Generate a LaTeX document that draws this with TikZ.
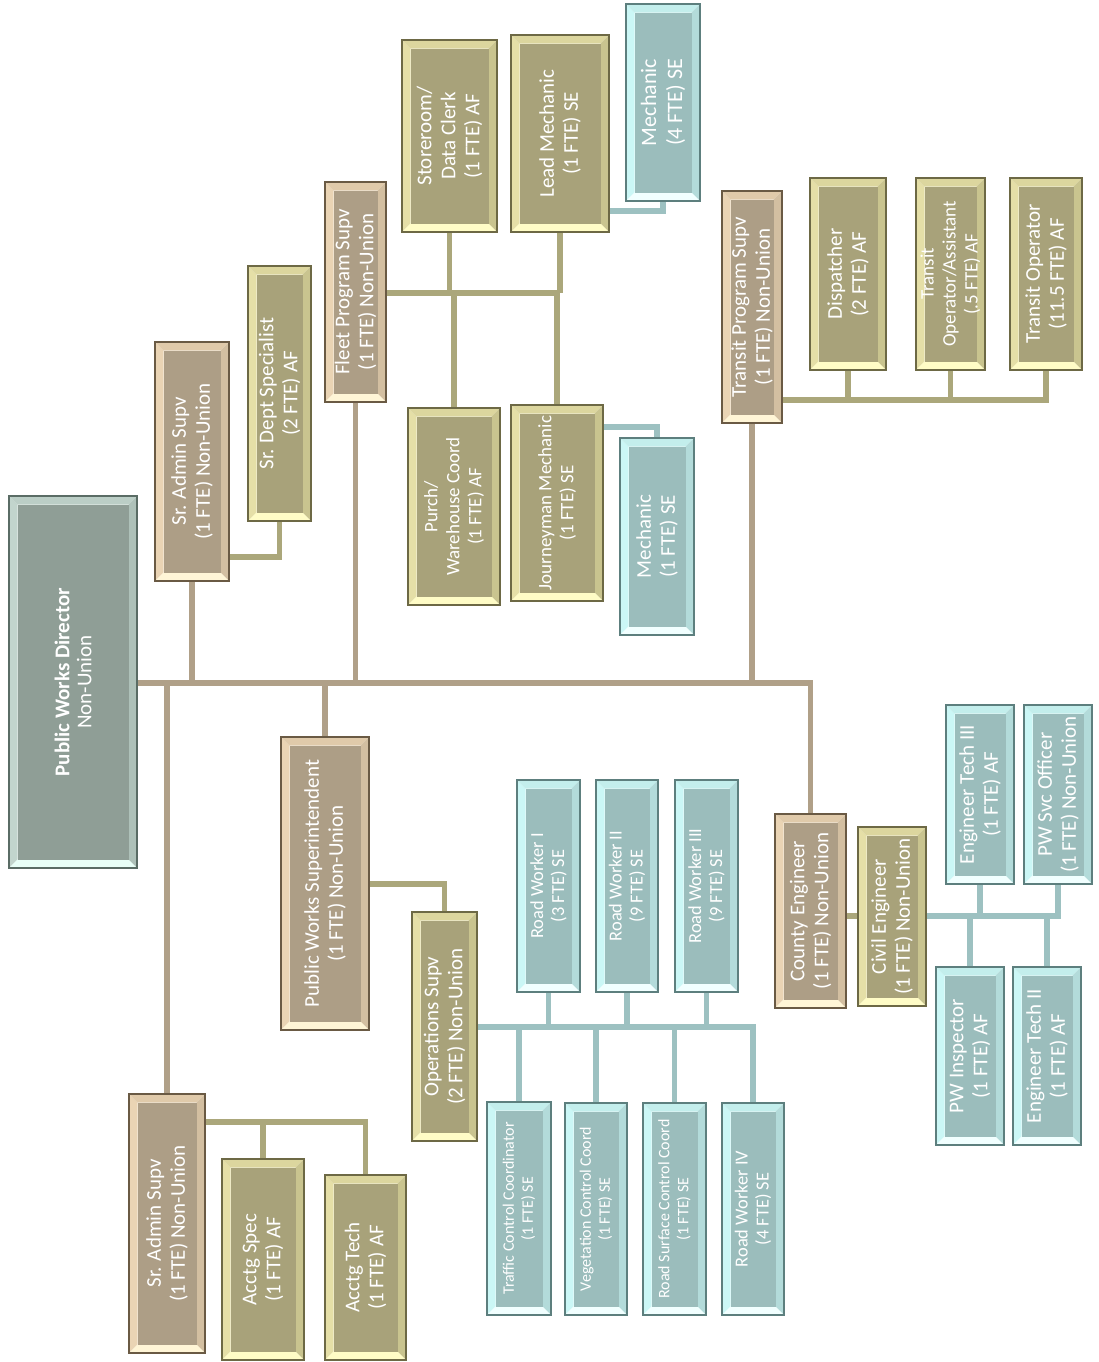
\documentclass[tikz,border=0pt]{standalone}
\usepackage{fontspec}
\setmainfont{Carlito}
\usetikzlibrary{fit}
% tan family
\definecolor{tanI}{HTML}{AD9E86}\definecolor{tanL}{HTML}{EAD4B4}\definecolor{tanT}{HTML}{E0CAAA}
\definecolor{tanR}{HTML}{D3BFA1}\definecolor{tanB}{HTML}{FFF5D6}\definecolor{tanD}{HTML}{6A5A44}
% olive family
\definecolor{olvI}{HTML}{A8A27A}\definecolor{olvL}{HTML}{E5DFA7}\definecolor{olvT}{HTML}{DCD69E}
\definecolor{olvR}{HTML}{C9C48F}\definecolor{olvB}{HTML}{FFFCC6}\definecolor{olvD}{HTML}{6D6945}
% teal family
\definecolor{teaI}{HTML}{9BBDBC}\definecolor{teaL}{HTML}{CBF7F6}\definecolor{teaT}{HTML}{C3EEEC}
\definecolor{teaR}{HTML}{B3DBDA}\definecolor{teaB}{HTML}{F1FFFF}\definecolor{teaD}{HTML}{5D7F7E}
% director family
\definecolor{dirI}{HTML}{8F9E96}\definecolor{dirL}{HTML}{C2D5CD}\definecolor{dirT}{HTML}{BBCEC6}
\definecolor{dirR}{HTML}{AEC1B9}\definecolor{dirB}{HTML}{E8FFF7}\definecolor{dirD}{HTML}{5A6C65}
% connector colours
\definecolor{lnTan}{HTML}{B0A088}\definecolor{lnOlv}{HTML}{ABA77B}\definecolor{lnTea}{HTML}{9DC1C1}
\newcommand\bvw{8.5}
\newcommand\orgbox[8]{%
  \fill[#2L] (#3,#4) -- ({#3+\bvw},{#4+\bvw}) -- ({#3+\bvw},{#6-\bvw}) -- (#3,#6) -- cycle;
  \fill[#2T] (#3,#4) -- (#5,#4) -- ({#5-\bvw},{#4+\bvw}) -- ({#3+\bvw},{#4+\bvw}) -- cycle;
  \fill[#2R] (#5,#4) -- (#5,#6) -- ({#5-\bvw},{#6-\bvw}) -- ({#5-\bvw},{#4+\bvw}) -- cycle;
  \fill[#2B] (#3,#6) -- (#5,#6) -- ({#5-\bvw},{#6-\bvw}) -- ({#3+\bvw},{#6-\bvw}) -- cycle;
  \fill[#2I] ({#3+\bvw},{#4+\bvw}) rectangle ({#5-\bvw},{#6-\bvw});
  \coordinate (#1-a) at (#3,#4);
  \coordinate (#1-b) at (#5,#6);
  \node[fit=(#1-a)(#1-b), inner sep=0pt, draw=#2D, line width=1pt] (#1) {};
  \node[boxtext, #7] (#1-t) at (#1.center) {#8};
}
\begin{document}
\begin{tikzpicture}[x=0.5pt, y=-0.5pt,
  boxtext/.style={rotate=90, text=white, align=center, inner sep=0pt},
  fN/.style={font=\fontsize{10.5pt}{12pt}\selectfont},
  fA/.style={font=\fontsize{10.5pt}{11pt}\selectfont},
  fM/.style={font=\fontsize{11pt}{13pt}\selectfont},
  fS/.style={font=\fontsize{9.5pt}{11pt}\selectfont},
  fR/.style={font=\fontsize{9.2pt}{10.5pt}\selectfont},
  fT/.style={font=\fontsize{8pt}{9.5pt}\selectfont},
  tanline/.style={draw=lnTan, line width=2.8pt},
  olvline/.style={draw=lnOlv, line width=2.6pt},
  tealine/.style={draw=lnTea, line width=2.6pt}]
\fill[white] (0,0) rectangle (1099,1362);
\useasboundingbox (0,0) rectangle (1099,1362);

% ---------- boxes ----------
\orgbox{dir}{dir}{9}{496}{137}{868}{fA}{\textbf{Public Works Director}\\Non-Union}
\orgbox{sasone}{tan}{155}{342}{229}{581}{fN}{Sr. Admin Supv\\(1 FTE) Non-Union}
\orgbox{sds}{olv}{248}{266}{311}{521}{fN}{Sr. Dept Specialist\\(2 FTE) AF}
\orgbox{fps}{tan}{325}{182}{386}{402}{fN}{Fleet Program Supv\\(1 FTE) Non-Union}
\orgbox{sdc}{olv}{402}{40}{497}{232}{fN}{Storeroom/\\Data Clerk\\(1 FTE) AF}
\orgbox{lm}{olv}{511}{35}{609}{232}{fN}{Lead Mechanic\\(1 FTE) SE}
\orgbox{mfour}{tea}{626}{4}{700}{201}{fM}{Mechanic\\(4 FTE) SE}
\orgbox{pwc}{olv}{408}{408}{500}{605}{fS}{Purch/\\Warehouse Coord\\(1 FTE) AF}
\orgbox{jm}{olv}{511}{405}{603}{601}{fS}{Journeyman Mechanic\\(1 FTE) SE}
\orgbox{mone}{tea}{620}{438}{694}{635}{fN}{Mechanic\\(1 FTE) SE}
\orgbox{tps}{tan}{722}{191}{782}{423}{fN}{Transit Program Supv\\(1 FTE) Non-Union}
\orgbox{disp}{olv}{810}{178}{886}{370}{fN}{Dispatcher\\(2 FTE) AF}
\orgbox{toa}{olv}{916}{178}{985}{370}{fS}{Transit\\Operator/Assistant\\(.5 FTE) AF}
\orgbox{tpo}{olv}{1010}{178}{1082}{370}{fN}{Transit Operator\\(11.5 FTE) AF}
\orgbox{pws}{tan}{281}{737}{369}{1030}{fN}{Public Works Superintendent\\(1 FTE) Non-Union}
\orgbox{ops}{olv}{412}{912}{477}{1141}{fN}{Operations Supv\\(2 FTE) Non-Union}
\orgbox{rwone}{tea}{517}{780}{580}{992}{fR}{Road Worker I\\(3 FTE) SE}
\orgbox{rwtwo}{tea}{596}{780}{658}{992}{fR}{Road Worker II\\(9 FTE) SE}
\orgbox{rwthree}{tea}{675}{780}{738}{992}{fR}{Road Worker III\\(9 FTE) SE}
\orgbox{tcc}{tea}{487}{1102}{551}{1315}{fT}{Traffic Control Coordinator\\(1 FTE) SE}
\orgbox{vcc}{tea}{565}{1103}{627}{1315}{fT}{Vegetation Control Coord\\(1 FTE) SE}
\orgbox{rsc}{tea}{643}{1103}{706}{1315}{fT}{Road Surface Control Coord\\(1 FTE) SE}
\orgbox{rwfour}{tea}{722}{1103}{784}{1315}{fR}{Road Worker IV\\(4 FTE) SE}
\orgbox{ce}{tan}{775}{814}{846}{1008}{fN}{County Engineer\\(1 FTE) Non-Union}
\orgbox{civ}{olv}{858}{827}{926}{1006}{fN}{Civil Engineer\\(1 FTE) Non-Union}
\orgbox{etthree}{tea}{946}{705}{1014}{884}{fN}{Engineer Tech III\\(1 FTE) AF}
\orgbox{pso}{tea}{1024}{705}{1092}{884}{fN}{PW Svc Officer\\(1 FTE) Non-Union}
\orgbox{pwi}{tea}{936}{967}{1004}{1145}{fN}{PW Inspector\\(1 FTE) AF}
\orgbox{ettwo}{tea}{1013}{967}{1081}{1145}{fN}{Engineer Tech II\\(1 FTE) AF}
\orgbox{sastwo}{tan}{129}{1094}{205}{1353}{fN}{Sr. Admin Supv\\(1 FTE) Non-Union}
\orgbox{acs}{olv}{222}{1159}{304}{1360}{fN}{Acctg Spec\\(1 FTE) AF}
\orgbox{act}{olv}{325}{1175}{406}{1360}{fN}{Acctg Tech\\(1 FTE) AF}

% ---------- bus levels ----------
\coordinate (ymain) at (0,683);
\coordinate (yadm) at (0,557);
\coordinate (yflt) at (0,293);
\coordinate (ymfour) at (0,211);
\coordinate (ymone) at (0,427);
\coordinate (ytrn) at (0,400);
\coordinate (yops) at (0,884);
\coordinate (yrw) at (0,1027);
\coordinate (yeng) at (0,916);
\coordinate (yact) at (0,1122);

% ---------- tan connectors ----------
\draw[tanline, line join=miter] (dir.east |- ymain) -- (ce.north |- ymain) -- (ce.north);
\draw[tanline] (sasone.south) -- (sasone.south |- ymain);
\draw[tanline] (fps.south) -- (fps.south |- ymain);
\draw[tanline] (tps.south) -- (tps.south |- ymain);
\draw[tanline] (pws.north |- ymain) -- (pws.north);
\draw[tanline] (sastwo.north |- ymain) -- (sastwo.north);

% ---------- olive connectors ----------
\draw[olvline] (sasone.east |- yadm) -- (sds.south |- yadm) -- (sds.south);
\draw[olvline] (fps.east |- yflt) -- (lm.south |- yflt);
\draw[olvline] (sdc.south) -- (sdc.south |- yflt);
\draw[olvline] (lm.south) -- (lm.south |- yflt);
\draw[olvline] (pwc.north) -- (pwc.north |- yflt);
\draw[olvline] (jm.north) -- (jm.north |- yflt);
\draw[olvline] (tps.east |- ytrn) -- (tpo.south |- ytrn) -- (tpo.south);
\draw[olvline] (disp.south) -- (disp.south |- ytrn);
\draw[olvline] (toa.south) -- (toa.south |- ytrn);
\draw[olvline] (pws.east |- yops) -- (ops.north |- yops) -- (ops.north);
\draw[olvline] (ce.east |- yeng) -- (civ.west |- yeng);
\draw[olvline] (sastwo.east |- yact) -- (act.north |- yact) -- (act.north);
\draw[olvline] (acs.north) -- (acs.north |- yact);

% ---------- teal connectors ----------
\draw[tealine] (lm.east |- ymfour) -- (mfour.south |- ymfour) -- (mfour.south);
\draw[tealine] (jm.east |- ymone) -- (mone.north |- ymone) -- (mone.north);
\draw[tealine] (ops.east |- yrw) -- (rwfour.north |- yrw) -- (rwfour.north);
\draw[tealine] (rwone.south) -- (rwone.south |- yrw);
\draw[tealine] (rwtwo.south) -- (rwtwo.south |- yrw);
\draw[tealine] (rwthree.south) -- (rwthree.south |- yrw);
\draw[tealine] (tcc.north) -- (tcc.north |- yrw);
\draw[tealine] (vcc.north) -- (vcc.north |- yrw);
\draw[tealine] (rsc.north) -- (rsc.north |- yrw);
\draw[tealine] (civ.east |- yeng) -- (pso.south |- yeng) -- (pso.south);
\draw[tealine] (etthree.south) -- (etthree.south |- yeng);
\draw[tealine] (pwi.north) -- (pwi.north |- yeng);
\draw[tealine] (ettwo.north) -- (ettwo.north |- yeng);
\end{tikzpicture}
\end{document}
